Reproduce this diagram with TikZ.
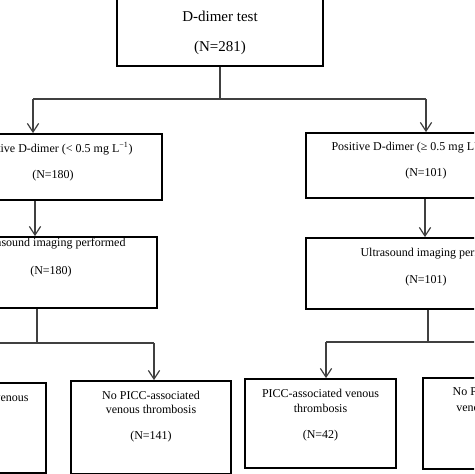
\documentclass[tikz,border=0pt]{standalone}
\usepackage{fontspec}
\setmainfont{Liberation Serif}
\usetikzlibrary{arrows.meta}
\tikzset{every picture/.style={line width=0.75pt}}
\tikzset{
  box/.style 2 args={draw=black, line width=1.3pt, inner sep=0pt, minimum width=#1*0.75pt, minimum height=#2*0.75pt},
  conn/.style={draw={rgb, 255:red, 64; green, 64; blue, 64}, line width=1.1pt},
  arr/.style={conn, -{Straight Barb[length=6.5pt, width=8.5pt, line width=0.9pt]}},
  lbl/.style={inner sep=0pt, font=\fontsize{9}{11}\selectfont},
  biglbl/.style={inner sep=0pt, font=\fontsize{11.25}{13}\selectfont}
}

\begin{document}
\begin{tikzpicture}[x=0.75pt,y=0.75pt,yscale=-1,xscale=1]
\useasboundingbox (0,0) rectangle (474,474);
\clip (0,0) rectangle (474,474);

%Shape: Rectangle [id:top]
\node [box={206}{68}] (top) at (220,32) {};
%Shape: Rectangle [id:neg]
\node [box={218}{66}] (neg) at (53,167) {};
%Shape: Rectangle [id:pos]
\node [box={240}{65}] (pos) at (426,165.5) {};
%Shape: Rectangle [id:usL]
\node [box={212}{71}] (usL) at (51,272.5) {};
%Shape: Rectangle [id:usR]
\node [box={240}{71}] (usR) at (426,273.5) {};
%Shape: Rectangle [id:thrL]
\node [box={160}{90}] (thrL) at (-34,428) {};
%Shape: Rectangle [id:nothrL]
\node [box={160}{93}] (nothrL) at (151,427.5) {};
%Shape: Rectangle [id:thrR]
\node [box={151}{89}] (thrR) at (320.5,423.5) {};
%Shape: Rectangle [id:nothrR]
\node [box={157}{91}] (nothrR) at (501.5,423.5) {};

%Joints
\coordinate (jTop) at (220,99);
\coordinate (jL) at (33,99);
\coordinate (jR) at (426,99);
\coordinate (xL1) at (35,0);
\coordinate (xR1) at (425,0);
\coordinate (jUsL) at (37,343);
\coordinate (jLL) at (-40,343);
\coordinate (jLR) at (154,343);
\coordinate (jUsR) at (428,342);
\coordinate (jRL) at (326,342);
\coordinate (jRR) at (520,342);

%Straight Lines
\draw [conn] (top.south) -- (jTop) ;
\draw [conn] (jL) -- (jR) ;
\draw [arr] (jL) -- (jL |- neg.north) ;
\draw [arr] (jR) -- (jR |- pos.north) ;
\draw [arr] (neg.south -| xL1) -- (usL.north -| xL1) ;
\draw [arr] (pos.south -| xR1) -- (usR.north -| xR1) ;
\draw [conn] (usL.south -| jUsL) -- (jUsL) ;
\draw [conn] (jLL) -- (jLR) ;
\draw [arr] (jLR) -- (jLR |- nothrL.north) ;
\draw [conn] (usR.south -| jUsR) -- (jUsR) ;
\draw [conn] (jRL) -- (jRR) ;
\draw [arr] (jRL) -- (jRL |- thrR.north) ;

% Text Node
\node [biglbl] (topA) at (220,16) {D-dimer test};
% Text Node
\node [biglbl] (topB) at (220,48) {(N=281)};
% Text Node
\node [lbl, anchor=east] (negA) at (133,149) {Negative D-dimer (< 0.5 mg L\textsuperscript{−1})};
% Text Node
\node [lbl] (negB) at (53,176) {(N=180)};
% Text Node
\node [lbl, anchor=west] (posA) at (331,147) {Positive D-dimer (≥ 0.5 mg L\textsuperscript{−1})};
% Text Node
\node [lbl] (posB) at (426,174) {(N=101)};
% Text Node
\node [lbl, anchor=east] (usLA) at (126,244) {Ultrasound imaging performed};
% Text Node
\node [lbl] (usLB) at (51,272) {(N=180)};
% Text Node
\node [lbl, anchor=west] (usRA) at (360,254) {Ultrasound imaging performed};
% Text Node
\node [lbl] (usRB) at (426,281) {(N=101)};
% Text Node
\node [lbl, anchor=east] (thrLA) at (29,397) {PICC-associated venous};
% Text Node
\node [lbl] (nothrLA) at (151,395) {No PICC-associated};
% Text Node
\node [lbl] (nothrLB) at (151,409) {venous thrombosis};
% Text Node
\node [lbl] (nothrLC) at (151,437) {(N=141)};
% Text Node
\node [lbl] (thrRA) at (320.5,393) {PICC-associated venous};
% Text Node
\node [lbl] (thrRB) at (320.5,408) {thrombosis};
% Text Node
\node [lbl] (thrRC) at (320.5,436) {(N=42)};
% Text Node
\node [lbl] (nothrRA) at (501.5,391) {No PICC-associated};
% Text Node
\node [lbl] (nothrRB) at (501.5,407) {venous thrombosis};

\end{tikzpicture}
\end{document}
